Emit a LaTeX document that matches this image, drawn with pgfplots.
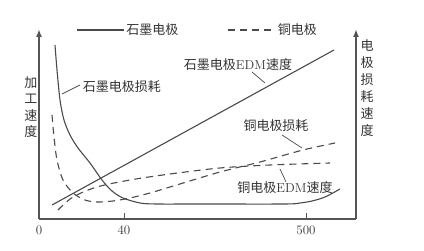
\documentclass[border=0pt]{standalone}
\usepackage{pgfplots}
\pgfplotsset{compat=1.18}
\usetikzlibrary{arrows.meta}
\usepackage{fontspec}
\newfontfamily\cjk{Noto Sans CJK SC}
\definecolor{ln}{HTML}{4A4A4A}
\definecolor{ax}{HTML}{555555}
\definecolor{tx}{HTML}{333333}
\begin{document}
\begin{tikzpicture}
\begin{axis}[
  scale only axis, width=317pt, height=189pt,
  xmin=39, xmax=356, ymin=32, ymax=221,
  axis x line=bottom, axis y line=none,
  x axis line style={-, line width=1.8pt, color=ax},
  xtick={39,124,306}, xticklabels={0,40,500},
  ytick=\empty,
  tick align=inside, major tick length=6pt,
  xtick style={line width=0.9pt, color=ax},
  xticklabel style={font=\fontsize{13}{13}\selectfont, text=tx, yshift=-3pt},
  clip=false,
  legend style={at={(axis cs:76,221)}, anchor=west, draw=none, fill=none,
    legend columns=2, inner sep=0pt, font=\cjk\fontsize{13}{13}\selectfont, text=tx,
    /tikz/every even column/.append style={column sep=47pt}},
  legend image code/.code={\draw[#1] (0pt,0pt) -- (47pt,0pt);},
]
\addlegendimage{ln, line width=1.3pt}
\addlegendentry{石墨电极}
\addlegendimage{ln, line width=1.3pt, dash pattern=on 7pt off 5pt}
\addlegendentry{铜电极}

% graphite electrode loss
\addplot[ln, line width=1.1pt, smooth, tension=0.5, forget plot] coordinates {
(55,206) (57,181) (60,151) (64,131) (70,116) (78,103) (90,88) (102,71)
(112,60) (123,53) (140,48) (157,47) (200,47) (285,47) (300,48) (312,50)
(325,54) (340,62)};
% graphite EDM speed
\addplot[ln, line width=1.1pt, forget plot] coordinates {(52,46) (334,201)};
% copper loss
\addplot[ln, line width=1.1pt, smooth, tension=0.5, dash pattern=on 7pt off 5pt, forget plot] coordinates {
(52,136) (54,114) (57,91) (63,71) (73,58) (85,51) (97,49) (113,50) (130,53)
(150,58) (170,64) (220,79) (260,89) (303,101) (335,108)};
% copper EDM speed
\addplot[ln, line width=1.1pt, smooth, tension=0.5, dash pattern=on 7pt off 5pt, forget plot] coordinates {
(58,41) (73,54) (97,64) (130,71) (170,77) (220,83) (270,86) (330,88)};

% axes
\draw[ax, line width=1.8pt, -{Latex[length=8pt,width=6pt]}] (axis cs:39,32) -- (axis cs:39,222);
\draw[ax, line width=1.8pt, -{Latex[length=8pt,width=6pt]}] (axis cs:356,32) -- (axis cs:356,222);

% axis labels
\node[text=tx, font=\cjk\fontsize{13}{16.5}\selectfont, align=center] at (axis cs:31,144) {加\\工\\速\\度};
\node[text=tx, font=\cjk\fontsize{13}{17}\selectfont, align=center] at (axis cs:367,163) {电\\极\\损\\耗\\速\\度};

% curve labels
\node[text=tx, font=\cjk\fontsize{13}{13}\selectfont] at (axis cs:122,164) {石墨电极损耗};
\draw[ln, line width=0.7pt] (axis cs:80,166) -- (axis cs:62,157);
\node[text=tx, font=\cjk\fontsize{13}{13}\selectfont, inner sep=0pt] at (axis cs:238,186) {石墨电极{\rmfamily EDM}速度};
\draw[ln, line width=0.7pt] (axis cs:252,179) -- (axis cs:265,168);
\node[text=tx, font=\cjk\fontsize{13}{13}\selectfont] at (axis cs:276,125) {铜电极损耗};
\draw[ln, line width=0.7pt] (axis cs:282,116) -- (axis cs:302,103);
\node[text=tx, font=\cjk\fontsize{13}{13}\selectfont, inner sep=0pt] at (axis cs:285,63) {铜电极{\rmfamily EDM}速度};
\draw[ln, line width=0.7pt] (axis cs:280,82) -- (axis cs:286,69);

\coordinate (bl) at (axis cs:0,0);
\coordinate (tr) at (axis cs:424,251);
\end{axis}
\pgfresetboundingbox
\path[use as bounding box] (bl) rectangle (tr);
\end{tikzpicture}
\end{document}
